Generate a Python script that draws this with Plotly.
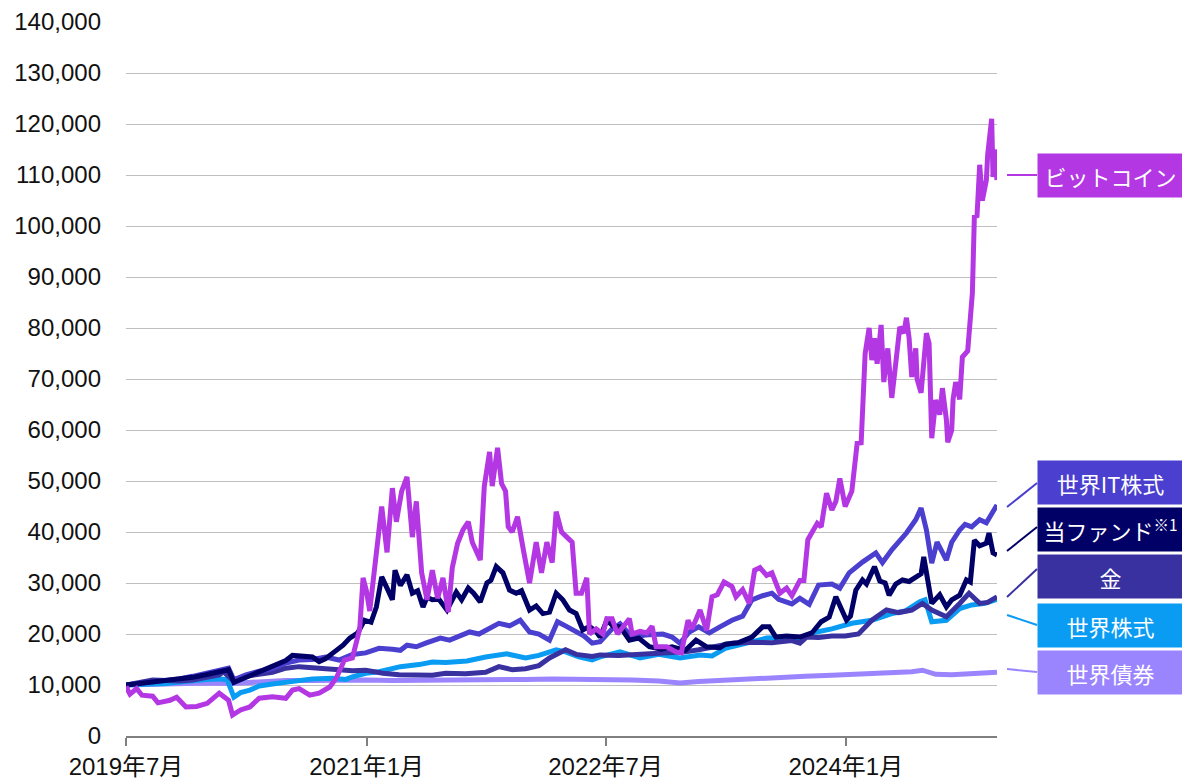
import numpy as np
import pandas as pd
import plotly.graph_objects as go

# index values (start = 10,000), x = months elapsed since 2019-07
btc_m = [0, 0.3, 0.8, 1.2, 2.0, 2.4, 3.3, 3.8, 4.5, 5.3, 6.1, 7.0, 7.7, 8.0, 8.6, 9.3, 10.0, 11.0, 12.0, 12.5,
         13.0, 13.8, 14.5, 15.3, 15.8, 16.4, 17.0, 17.3, 17.55, 17.8, 18.05, 18.3, 18.6, 18.8, 19.2, 19.6, 20.0, 20.3, 20.7, 21.1,
         21.5, 21.8, 22.2, 22.6, 23.0, 23.4, 23.8, 24.2, 24.5, 24.9, 25.3, 25.7, 26.0, 26.6, 26.9, 27.3, 27.5, 27.9, 28.2, 28.5,
         28.7, 29.0, 29.4, 29.8, 30.3, 30.8, 31.2, 31.6, 32.0, 32.3, 32.7, 33.1, 33.5, 33.8, 34.2, 34.6, 34.8, 35.3, 35.8, 36.1,
         36.5, 36.9, 37.3, 37.8, 38.0, 38.6, 39.1, 39.5, 39.8, 40.6, 41.3, 41.7, 42.2, 42.5, 43.1, 43.6, 44.0, 44.4, 44.9, 45.5,
         45.8, 46.3, 46.8, 47.2, 47.6, 48.1, 48.5, 49.1, 49.6, 50.0, 50.6, 50.9, 51.2, 51.5, 51.9, 52.2, 52.6, 53.0, 53.3, 53.6,
         54.0, 54.5, 54.9, 55.2, 55.4, 55.5, 55.8, 56.0, 56.2, 56.4, 56.7, 56.9, 57.2, 57.5, 57.7, 58.1, 58.4, 58.6, 58.8, 59.0,
         59.3, 59.4, 59.7, 60.1, 60.3, 60.5, 60.8, 61.1, 61.3, 61.6, 61.7, 62.0, 62.1, 62.3, 62.6, 62.8, 63.2, 63.45, 63.55, 63.7,
         63.9, 64.1, 64.3, 64.6, 64.7, 65.0, 65.1, 65.2, 65.4]
btc = [9700, 8200, 9300, 8000, 7800, 6500, 7000, 7600, 5700, 5800, 6400, 8400, 7000, 4100, 5100, 5700, 7400, 7700, 7400, 9000,
       9300, 8000, 8400, 9600, 11400, 14900, 15300, 18000, 21000, 31000, 28500, 24500, 31000, 36500, 45000, 36000, 48600, 42000, 48000, 50800,
       39000, 46000, 32000, 26700, 32500, 27000, 31000, 24300, 33000, 37800, 40400, 42000, 38000, 34500, 48900, 55700, 49000, 56500, 49500, 48000,
       41000, 40000, 43000, 37000, 30000, 38000, 32000, 38000, 34000, 44000, 40000, 39000, 38000, 28000, 28000, 31000, 20000, 21000, 20000, 23000,
       23000, 20000, 21500, 23000, 20000, 20500, 20200, 21500, 17500, 17500, 16500, 16300, 22700, 21000, 24700, 20700, 27300, 27700, 30200, 29300,
       27300, 28700, 26000, 32500, 33000, 31500, 32000, 28000, 29000, 27500, 30500, 30500, 38500, 40000, 41700, 41000, 47600, 44300, 46000, 50500,
       45000, 48000, 57400, 57500, 67800, 75000, 80000, 73700, 78000, 73000, 80600, 69400, 76000, 66300, 70800, 80200, 79000, 82000, 78000, 70400,
       76000, 70000, 67300, 79000, 77000, 58400, 65900, 63000, 68200, 62000, 57600, 60000, 66000, 69400, 66000, 74300, 75500, 82900, 86800, 101800,
       102000, 112000, 105000, 109000, 114000, 121000, 109600, 115000, 109000]

fund_m = [0, 1, 2, 3, 4, 5, 6, 7, 7.7, 8.1, 9, 10, 11, 12, 12.5, 13, 14, 14.5, 15, 15.5,
          16.3, 16.8, 17.4, 17.9, 18.4, 18.8, 19.2, 19.6, 20.0, 20.2, 20.6, 21.1, 21.5, 21.9, 22.3, 22.6, 23.0, 23.5, 24.1, 24.8,
          25.2, 25.7, 26.1, 26.6, 27.1, 27.4, 27.8, 28.3, 28.8, 29.3, 29.7, 30.3, 30.8, 31.3, 31.8, 32.3, 32.8, 33.3, 33.8, 34.3,
          34.8, 35.3, 35.6, 36.1, 36.6, 37.1, 37.8, 38.5, 39.3, 40.2, 41.0, 42.0, 42.8, 43.6, 44.6, 45.0, 46.0, 47.0, 47.8, 48.3,
          48.8, 49.6, 50.6, 51.5, 52.2, 52.8, 53.3, 53.7, 54.1, 54.4, 54.8, 55.3, 55.6, 56.2, 56.6, 57.0, 57.3, 57.8, 58.3, 58.8,
          59.3, 59.7, 59.9, 60.2, 60.5, 61.1, 61.6, 62.0, 62.6, 63.1, 63.4, 63.7, 64.1, 64.6, 64.8, 65.1, 65.4]
fund = [10000, 10300, 10500, 10800, 11100, 11500, 12000, 12600, 13000, 10500, 11500, 12500, 13500, 14800, 15800, 15700, 15500, 14600, 15200, 16200,
        17800, 19200, 20200, 22700, 22300, 25300, 31200, 29000, 26700, 32500, 29500, 31600, 28000, 28500, 25300, 27200, 26700, 26800, 24700, 28200,
        26700, 29000, 28000, 26300, 30000, 30500, 33200, 32000, 28600, 28000, 28500, 24700, 25500, 24000, 24300, 28000, 26700, 24700, 24000, 20800,
        21500, 20500, 19400, 22700, 21500, 21400, 18800, 19200, 17500, 17000, 17500, 16800, 18800, 17500, 17300, 18000, 18300, 19400, 21400, 21400,
        19400, 19600, 19400, 20200, 22400, 23300, 27300, 25000, 22700, 23500, 28600, 30600, 29800, 33200, 30400, 30000, 27600, 29800, 30600, 30300,
        31200, 31800, 35100, 30500, 26000, 27700, 25300, 26700, 27600, 30600, 30200, 38400, 37300, 37800, 39800, 35900, 35500]

it_m = [0, 1, 2, 3, 4, 5, 6, 7, 7.7, 8.1, 9, 10, 11, 12, 13, 14, 15, 16, 17, 18,
        19, 20, 20.6, 21.1, 21.8, 22.5, 23.6, 24.3, 25.0, 25.8, 26.5, 27.3, 28.0, 28.8, 29.6, 30.3, 31.0, 31.8, 32.4, 33.0,
        33.8, 34.4, 35.0, 35.6, 36.5, 37.1, 38.0, 39.0, 40.3, 41.0, 41.6, 42.3, 43.0, 43.8, 44.6, 45.5, 46.3, 47.0, 47.8, 48.5,
        49.0, 50.0, 50.6, 51.3, 52.0, 53.0, 53.6, 54.3, 55.3, 56.3, 56.8, 57.5, 58.6, 59.3, 59.7, 60.1, 60.5, 60.9, 61.6, 62.0,
        62.6, 63.0, 63.5, 64.1, 64.6, 65.0, 65.4]
it_eq = [10000, 10300, 10500, 10900, 11200, 11700, 12300, 13000, 13300, 11000, 12000, 12700, 13200, 14300, 14900, 15000, 15500, 14900, 16000, 16300,
         17200, 17000, 16800, 17800, 17500, 18200, 19200, 18800, 19600, 20400, 20000, 21200, 22100, 21600, 22700, 20400, 20000, 18800, 22400, 21600,
         20400, 19600, 18200, 18500, 21000, 22000, 19400, 19800, 20000, 19400, 18200, 20400, 21400, 20200, 21400, 22700, 23500, 26700, 27500, 28000,
         26800, 25900, 27000, 25800, 29600, 29800, 29000, 32000, 34100, 35900, 34000, 36500, 39800, 42400, 44700, 40400, 33900, 38000, 34500, 38000,
         40400, 41500, 41000, 42400, 41800, 43700, 45300]

gold_m = [0, 1, 2, 3, 4, 5, 6, 7, 7.3, 8.0, 9, 10, 11, 12, 13, 14, 15.5, 17, 18, 19.3,
          20.5, 22, 23, 24, 25.5, 27, 28, 29, 30, 31, 31.8, 33, 33.8, 35, 35.6, 37, 38.5, 40.6, 42, 43,
          44.3, 45.5, 47, 48.5, 50, 50.6, 51.1, 52, 53, 54, 55, 56, 57.1, 58, 59, 59.8, 60.5, 61.6, 62.6, 63.3,
          64.1, 64.7, 65.4]
gold = [10000, 10600, 11000, 10900, 10800, 11000, 11400, 12000, 12600, 11000, 11700, 12000, 12500, 13300, 13600, 13400, 13000, 12800, 12900, 12300,
        12000, 12000, 11900, 12300, 12200, 12500, 13600, 13000, 13200, 13800, 15300, 16900, 16000, 15600, 15900, 15800, 16000, 16300, 16500, 16900,
        17500, 18200, 18400, 18300, 18700, 18200, 19400, 19300, 19600, 19600, 20000, 22700, 24700, 24200, 24700, 26000, 24700, 23400, 26000, 28000,
        26000, 26200, 27300]

weq_m = [0, 1, 2, 3, 4, 5, 6, 7, 7.6, 8.1, 8.6, 9.3, 10, 11, 12, 13, 14, 15.5, 16.5, 17,
         18, 19, 20.6, 22, 23, 24, 25.6, 27, 28.6, 30, 31, 32.3, 33, 34, 35, 35.6, 37.1, 38.6, 40, 41.6,
         43.1, 44, 45, 46.6, 48.1, 49.5, 50.6, 51.5, 53, 54.5, 56, 57.5, 58.5, 59.6, 60, 60.5, 61.6, 62.6, 63.5, 64.5,
         65.4]
world_eq = [10000, 10100, 10000, 10300, 10600, 10900, 11100, 11200, 11000, 7600, 8500, 9000, 9800, 10200, 10600, 11000, 11200, 11300, 11100, 11600,
            12300, 12600, 13600, 14000, 14500, 14400, 14700, 15500, 16100, 15300, 15800, 16900, 16500, 15500, 14900, 15500, 16500, 15300, 16000, 15300,
            15900, 15700, 17200, 18200, 19200, 19300, 18800, 20200, 21000, 22100, 22700, 24000, 24500, 26300, 26700, 22400, 22700, 25000, 25700, 26000,
            26800]

bond_m = [0, 2, 4, 6, 8, 10, 12, 14, 16, 18, 20, 22, 24, 26, 28, 30, 32, 34, 36, 38,
          40, 41.6, 43, 45, 47, 49, 51, 53, 55, 57, 59, 59.8, 60.8, 62, 63, 64, 65.4]
bonds = [10000, 10200, 10200, 10400, 10300, 10600, 10900, 10900, 11000, 11000, 10900, 10900, 10900, 11000, 11100, 11100, 11200, 11200, 11200, 11000,
         10800, 10400, 10700, 11000, 11200, 11400, 11700, 11900, 12100, 12300, 12600, 12900, 12100, 12000, 12200, 12300, 12500]

tick_dates = ["2019-07-01", "2021-01-01", "2022-07-01", "2024-01-01"]
tick_labels = ["2019年7月", "2021年1月", "2022年7月", "2024年1月"]

START = pd.Timestamp("2019-07-01")


def to_dates(months):
    return START + pd.to_timedelta(np.array(months) * 30.4375, unit="D")


# drawn bottom -> top
series = [
    ("世界債券", bond_m, bonds, "#9B85FF"),
    ("世界株式", weq_m, world_eq, "#0A9CF2"),
    ("金", gold_m, gold, "#3A31A0"),
    ("世界IT株式", it_m, it_eq, "#4A3FCF"),
    ("当ファンド", fund_m, fund, "#000066"),
    ("ビットコイン", btc_m, btc, "#B437E4"),
]

fig = go.Figure()
for name, m, vals, col in series:
    assert len(m) == len(vals), name
    fig.add_trace(go.Scatter(x=to_dates(m), y=vals, mode="lines", name=name,
                             line=dict(color=col, width=5)))

# label boxes on the right: (text, colour, box centre y, line start y, line end y) in paper units
labels = [
    ("ビットコイン", "#B437E4", 0.785, 0.7857, 0.7857),
    ("世界IT株式", "#4A3FCF", 0.355, 0.3207, 0.3543),
    ("当ファンド<sup>※1</sup>", "#000066", 0.289, 0.2591, 0.2927),
    ("金", "#3A31A0", 0.224, 0.1947, 0.2339),
    ("世界株式", "#0A9CF2", 0.155, 0.1695, 0.1555),
    ("世界債券", "#9B85FF", 0.0896, 0.0938, 0.0896),
]
for text, col, yc, y0, y1 in labels:
    fig.add_annotation(xref="paper", yref="paper", x=1.046, y=yc, xanchor="left", yanchor="middle",
                       text=text, showarrow=False, bgcolor=col, width=141, height=39, borderpad=2,
                       font=dict(family="Noto Sans CJK JP", size=22, color="white"))
    fig.add_shape(type="line", xref="paper", yref="paper", x0=1.0115, x1=1.046, y0=y0, y1=y1,
                  line=dict(color=col, width=2))

font = dict(family="Liberation Sans, Noto Sans CJK JP", size=24, color="#111111")
fig.update_xaxes(type="date", range=[START, to_dates([65.4])[0]],
                 tickvals=tick_dates, ticktext=tick_labels, tickfont=font, automargin=False,
                 showgrid=False, zeroline=False, showline=True, linecolor="#808080", linewidth=1.5,
                 ticks="outside", ticklen=8, tickcolor="#808080", tickwidth=1.5)
fig.update_yaxes(range=[0, 140000], dtick=10000, tickformat=",", tickfont=font, automargin=False,
                 gridcolor="#BFBFBF", gridwidth=1, zeroline=False, showline=False,
                 ticklabelstandoff=24)

fig.update_layout(width=1182, height=782, margin=dict(l=126, r=185, t=22, b=46),
                  plot_bgcolor="white", paper_bgcolor="white", showlegend=False)

fig.write_html("out.html", config={"displayModeBar": False},
               post_script="document.body.style.margin='0';")
